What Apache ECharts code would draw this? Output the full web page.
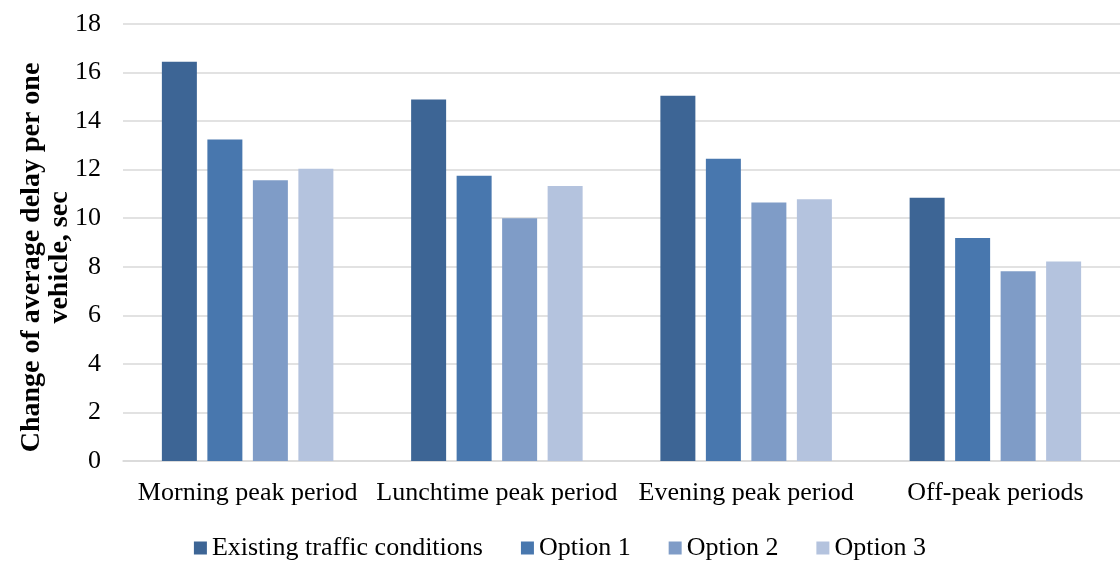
<!DOCTYPE html>
<html>
<head>
<meta charset="utf-8">
<script src="https://cdn.jsdelivr.net/npm/echarts@6/dist/echarts.min.js"></script>
<style>
  html, body { margin: 0; padding: 0; background: #fff; }
  #main { width: 1120px; height: 563px; }
</style>
</head>
<body>
<div id="main"></div>
<script>
// periods along the x axis
var periods = ['Morning peak period', 'Lunchtime peak period', 'Evening peak period', 'Off-peak periods'];
// change of average delay per vehicle, sec
var existing = [16.45, 14.89, 15.04, 10.84];
var option1 = [13.24, 11.75, 12.45, 9.19];
var option2 = [11.56, 10.0, 10.65, 7.82];
var option3 = [12.04, 11.33, 10.78, 8.22];
var yTicks = [0, 2, 4, 6, 8, 10, 12, 14, 16, 18];

var font = 'Liberation Serif';
var myChart = echarts.init(document.getElementById('main'));

function bar(name, data, color) {
    return {
        name: name,
        type: 'bar',
        data: data,
        barWidth: 35,
        barGap: '30%',
        itemStyle: { color: color }
    };
}

var option = {
    animation: false,
    textStyle: { fontFamily: font },
    grid: { left: 123, right: 0, top: 24, bottom: 102 },
    legend: {
        top: 530,
        left: 'center',
        itemWidth: 13,
        itemHeight: 13,
        itemGap: 38,
        icon: 'rect',
        textStyle: { fontFamily: font, fontSize: 26, color: '#000' },
        data: ['Existing traffic conditions', 'Option 1', 'Option 2', 'Option 3']
    },
    xAxis: {
        type: 'category',
        data: periods,
        axisLine: { lineStyle: { color: '#d9d9d9', width: 1.5 } },
        axisTick: { show: false },
        axisLabel: { fontFamily: font, fontSize: 26, color: '#000', margin: 19, interval: 0 }
    },
    yAxis: {
        type: 'value',
        min: yTicks[0],
        max: yTicks[yTicks.length - 1],
        interval: 2,
        name: 'Change of average delay per one\nvehicle, sec',
        nameLocation: 'middle',
        nameRotate: 90,
        nameGap: 49,
        nameMoveOverlap: false,
        nameTextStyle: {
            fontFamily: font, fontSize: 28, fontWeight: 'bold', color: '#000',
            lineHeight: 28, padding: [0, 30, 0, 0]
        },
        axisLine: { show: false },
        axisTick: { show: false },
        axisLabel: { fontFamily: font, fontSize: 26, color: '#000', margin: 22 },
        splitLine: { lineStyle: { color: '#d9d9d9', width: 1.5 } }
    },
    series: [
        bar('Existing traffic conditions', existing, '#3d6595'),
        bar('Option 1', option1, '#4877ae'),
        bar('Option 2', option2, '#7f9cc7'),
        bar('Option 3', option3, '#b4c3de')
    ]
};
myChart.setOption(option);
</script>
</body>
</html>
